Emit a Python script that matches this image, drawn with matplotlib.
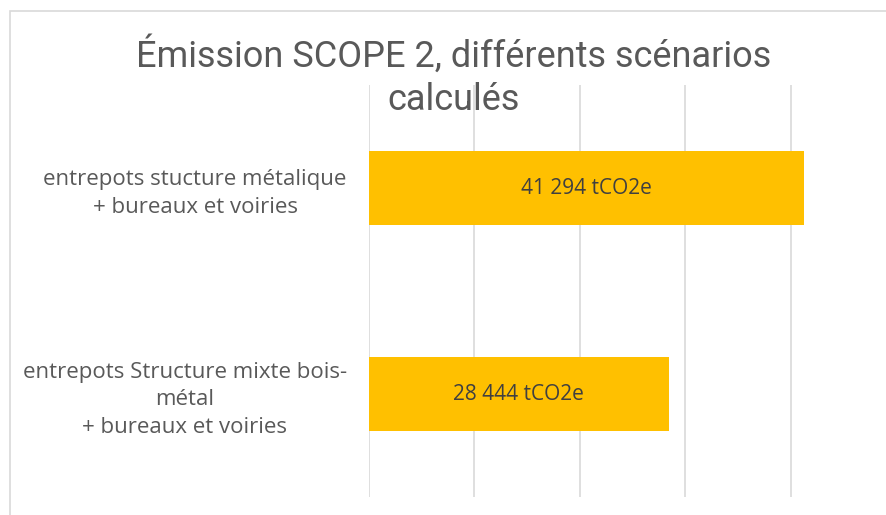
import matplotlib.pyplot as plt
from matplotlib.patches import Rectangle

# data
categories = [
    "entrepots Structure mixte bois-\nmétal\n+ bureaux et voiries",
    "entrepots stucture métalique\n+ bureaux et voiries",
]
values = [28444, 41294]
unit = "tCO2e"
title = "Émission SCOPE 2, différents scénarios\ncalculés"

W, H = 886, 515
fig = plt.figure(figsize=(W / 100, H / 100), dpi=100)
fig.patch.set_facecolor("white")

# chart frame (light gray border, cropped at right/bottom)
fig.patches.append(Rectangle((10 / W, -0.05), 1.2, 1 - 11 / H + 0.05,
                             transform=fig.transFigure, fill=False,
                             edgecolor="#d9d9d9", linewidth=1.2, zorder=0))

# plot area: x=0 at px 369, 50000 at px 896; y from px 85 to 497
left, right = 369 / W, 896 / W
top, bottom = 1 - 85 / H, 1 - 497 / H
ax = fig.add_axes([left, bottom, right - left, top - bottom])
ax.set_xlim(0, 50000)
ax.set_ylim(-0.5, 1.5)

pos = list(range(len(values)))
ax.barh(pos, values, height=0.355, color="#FFC000", zorder=2)

for p, v in zip(pos, values):
    txt = f"{v:,.0f}".replace(",", " ") + " " + unit
    ax.text(v / 2, p, txt, ha="center", va="center", fontsize=15,
            color="#404040", family="Open Sans", zorder=3)

ax.set_xticks([0, 10000, 20000, 30000, 40000, 50000])
ax.set_xticklabels([])
ax.tick_params(axis="x", length=0)
ax.grid(axis="x", color="#d9d9d9", linewidth=1.2, zorder=1)

ax.set_yticks(pos)
ax.set_yticklabels(categories, fontsize=16, color="#595959",
                   family="Open Sans", multialignment="center",
                   linespacing=1.4)
ax.tick_params(axis="y", length=0, pad=16)

for s in ax.spines.values():
    s.set_visible(False)

fig.text(454 / W, 1 - 36 / H, title, ha="center", va="top", fontsize=26,
         color="#595959", family="Roboto", linespacing=1.25)

fig.savefig("out.png", dpi=100)
